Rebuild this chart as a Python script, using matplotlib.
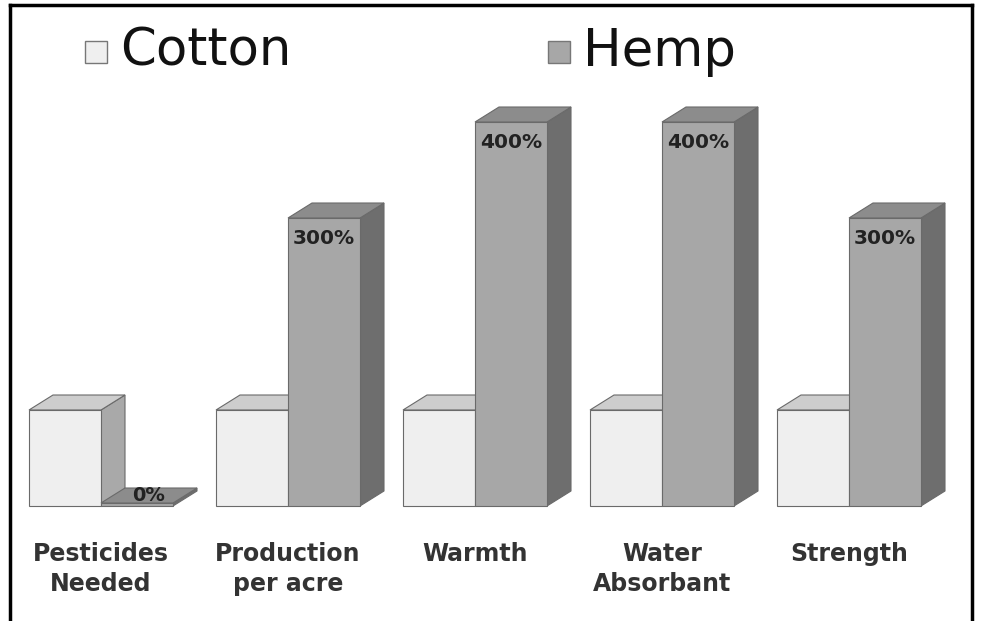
import matplotlib
matplotlib.use("Agg")
from matplotlib import pyplot as plt
from matplotlib.patches import Polygon, Rectangle
from matplotlib.lines import Line2D

categories = ["Pesticides\nNeeded", "Production\nper acre", "Warmth", "Water\nAbsorbant", "Strength"]
cotton = [100, 100, 100, 100, 100]
hemp = [0, 300, 400, 400, 300]
series_names = ["Cotton", "Hemp"]

# pixel layout of the original picture
W, H = 987, 621
X0, STEP = 101, 187          # px of the cotton/hemp boundary for first group, group spacing
BASE, PX_PER_PCT = 506, 0.96
BAR_PX, DX_PX, DY_PX = 72, 24, 15

cotton_faces = ("#efefef", "#cdcdcd", "#a9a9a9")   # front, top, side
hemp_faces = ("#a7a7a7", "#8c8c8c", "#6e6e6e")
edge = "#6a6a6a"

fig = plt.figure(figsize=(W / 100, H / 100), dpi=100)
ax = fig.add_axes([0, 0, 1, 1])
ax.set_xlim(-X0 / STEP, (W - X0) / STEP)
ax.set_ylim(-(H - BASE) / PX_PER_PCT, BASE / PX_PER_PCT)
ax.axis("off")

bw = BAR_PX / STEP
dx = DX_PX / STEP
dy = DY_PX / PX_PER_PCT
min_h = 3 / PX_PER_PCT


def box(x, h, faces, z):
    front, top, side = faces
    h = max(h, min_h)
    ax.add_patch(Polygon([(x + bw, 0), (x + bw + dx, dy), (x + bw + dx, h + dy), (x + bw, h)],
                         closed=True, fc=side, ec=edge, lw=0.8, zorder=z))
    ax.add_patch(Polygon([(x, h), (x + dx, h + dy), (x + bw + dx, h + dy), (x + bw, h)],
                         closed=True, fc=top, ec=edge, lw=0.8, zorder=z))
    ax.add_patch(Rectangle((x, 0), bw, h, fc=front, ec=edge, lw=0.8, zorder=z))


for i, (c, hv) in enumerate(zip(cotton, hemp)):
    box(i - bw, c, cotton_faces, 2 + 2 * i)
    box(i, hv, hemp_faces, 3 + 2 * i)
    if hv > 0:
        ax.text(i + bw / 2, hv - 21 / PX_PER_PCT, f"{hv}%", ha="center", va="center",
                fontsize=14.5, fontweight="bold", color="#222222", zorder=20)
    else:
        ax.text(i + bw / 2 + dx / 2, dy / 2 + min_h, f"{hv}%", ha="center", va="center",
                fontsize=14, fontweight="bold", color="#222222", zorder=20)
    ax.text(i, -36 / PX_PER_PCT, categories[i], ha="center", va="top", fontsize=17,
            fontweight="bold", color="#333333", linespacing=1.3)

# legend drawn as squares plus large text
leg_y = 1 - 52 / H
for name, faces, sx in zip(series_names, (cotton_faces, hemp_faces), (85, 548)):
    fig.patches.append(Rectangle((sx / W, leg_y - 11 / H), 22 / W, 22 / H, transform=fig.transFigure,
                                 fc=faces[0], ec="#777777", lw=1))
    fig.text((sx + 35) / W, leg_y, name, fontsize=37, va="center", ha="left", color="#111111")

# frame (left, top, right)
for xs, ys in [((10, 10), (5, 621)), ((10, 972), (5, 5)), ((972, 972), (5, 621))]:
    fig.lines.append(Line2D([x / W for x in xs], [1 - y / H for y in ys], transform=fig.transFigure,
                            color="black", lw=2.5))

fig.savefig("out.png", dpi=100)
